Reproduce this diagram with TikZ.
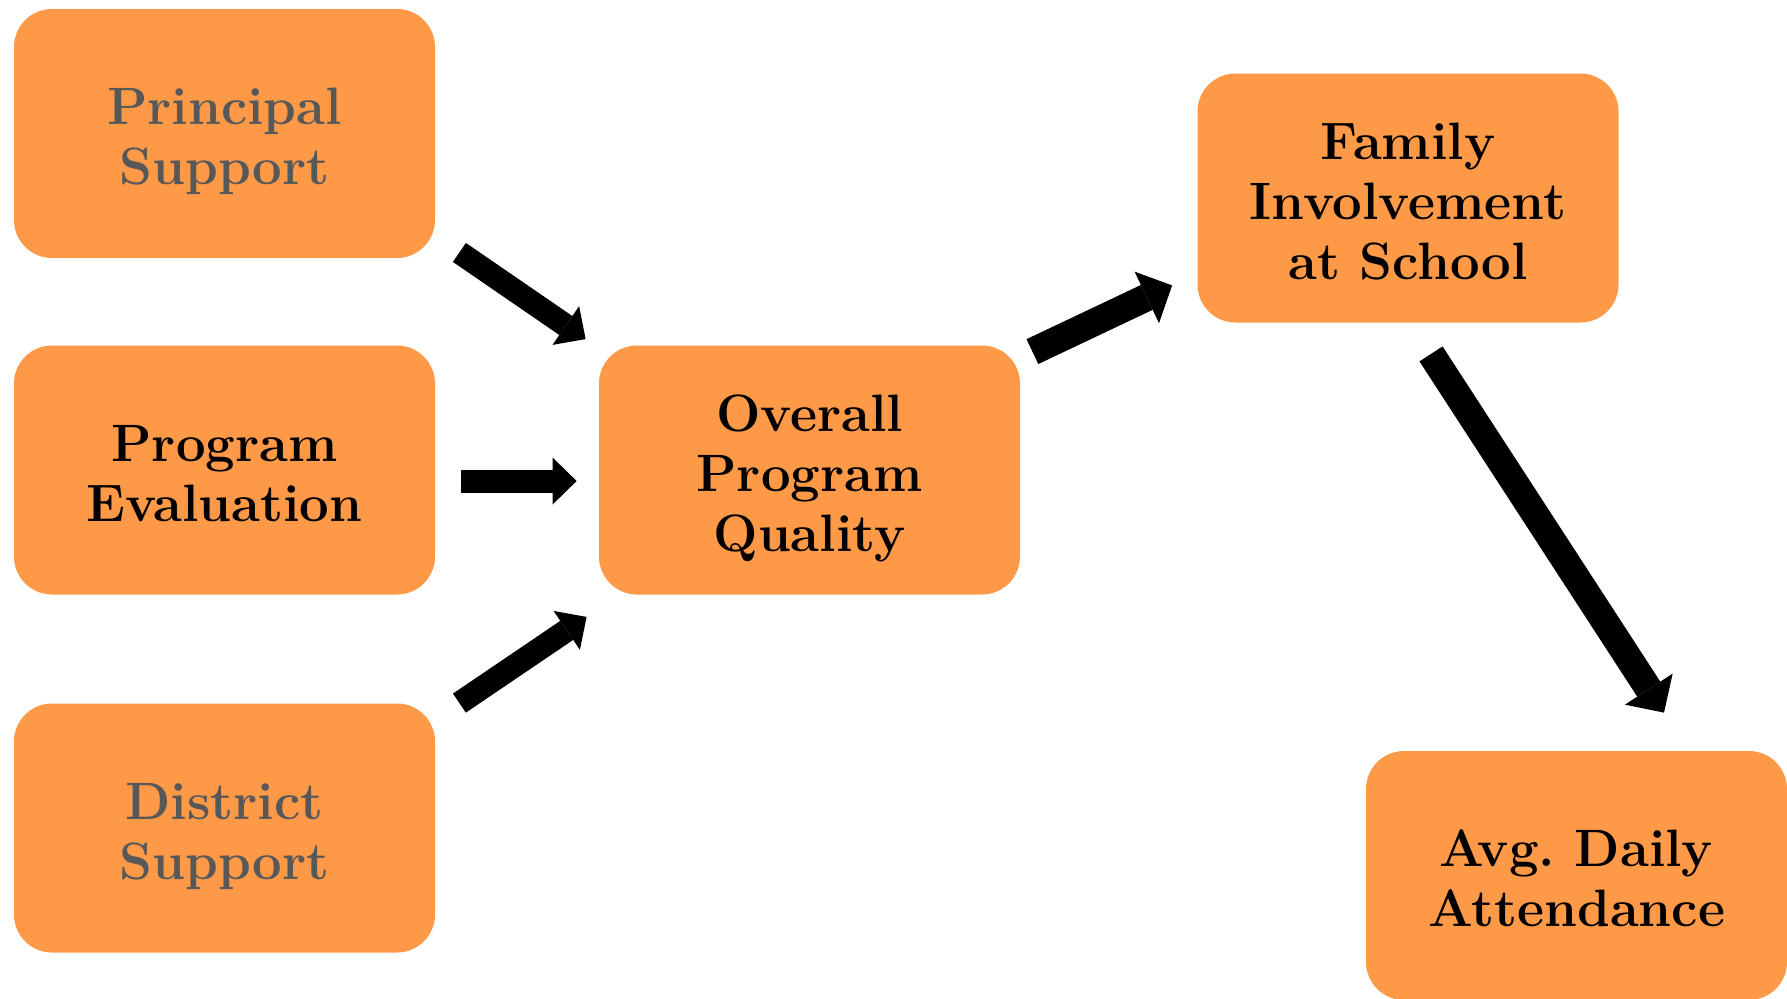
\documentclass[tikz,border=0pt]{standalone}
\usepackage{fontspec}
\usetikzlibrary{arrows.meta,calc}
\definecolor{boxorange}{RGB}{254,153,72}
\definecolor{softgray}{RGB}{88,88,88}
\newcommand{\boxtext}[1]{\raisebox{-4.5pt}[\height][\depth]{\begin{tabular}{@{}c@{}}#1\end{tabular}}}
\tikzset{
  box/.style={fill=boxorange, draw=none, rounded corners=19pt,
    minimum width=210.5pt, minimum height=124.5pt, inner sep=0pt,
    align=center, font=\fontsize{26.3}{30}\selectfont\bfseries\frenchspacing, text=black},
  graybox/.style={box, text=softgray},
  thinarrow/.style={line width=11.5pt, draw=black,
    -{Triangle[length=12pt,width=23.5pt,line width=0pt]}},
  thickarrow/.style={line width=13.75pt, draw=black,
    -{Triangle[length=14pt,width=28.5pt,line width=0pt]}}
}
\begin{document}
\begin{tikzpicture}[x=0.5pt,y=-0.5pt]
\useasboundingbox (0,0) rectangle (1787,998);
\node[graybox] (ps) at (224.5,133.5) {\boxtext{Principal\\Support}};
\node[box] (pe) at (224.5,470) {\boxtext{Program\\Evaluation}};
\node[graybox] (ds) at (224.5,828) {\boxtext{District\\Support}};
\node[box] (opq) at (809.5,470) {\boxtext{Overall\\Program\\Quality}};
\node[box] (fi) at (1408,198) {\boxtext{Family\\Involvement\\at School}};
\node[box] (ada) at (1576.5,875.5) {\boxtext{Avg. Daily\\Attendance}};
\draw[thinarrow] ($(ps.south east)+(24,-6)$) -- ($(opq.north west)+(-13,-6)$);
\draw[thinarrow] ($(pe.east)+(26,11)$) -- ($(opq.west)+(-22,11)$);
\draw[thinarrow] ($(ds.north east)+(24,0)$) -- ($(opq.south west)+(-12,22)$);
\draw[thickarrow] ($(opq.north east)+(12,6.5)$) -- ($(fi.south west)+(-25,-37.5)$);
\draw[thickarrow] ($(fi.south)+(23,31)$) -- ($(ada.north)+(87.5,-38)$);
\end{tikzpicture}
\end{document}
